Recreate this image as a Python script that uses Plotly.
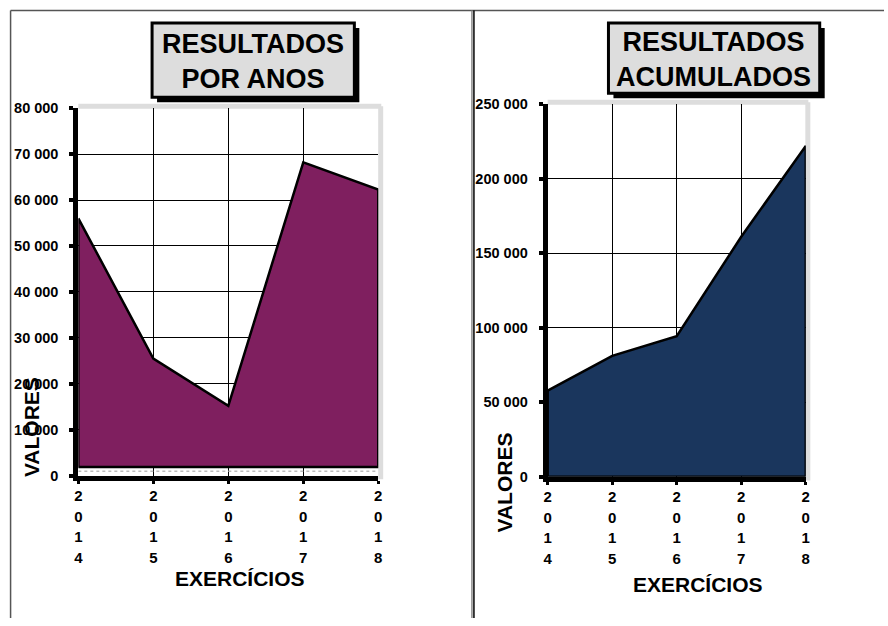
import plotly.graph_objects as go

years = [2014, 2015, 2016, 2017, 2018]
year_digits = ["2014", "2015", "2016", "2017", "2018"]
resultados_anos = [56000, 25500, 15200, 68200, 62300]
resultados_acum = [57800, 81100, 94300, 161000, 222000]

left_ticks = [0, 10000, 20000, 30000, 40000, 50000, 60000, 70000, 80000]
right_ticks = [0, 50000, 100000, 150000, 200000, 250000]

W, H = 888, 626
FONT = "Arial, Liberation Sans, sans-serif"
PURPLE = "#7F1F5F"
NAVY = "#1A365D"
base_left = 1900  # floor of the left area band

year_labels = ["<br>".join("<span style='font-size:15px'>%s</span>" % c for c in s) for s in year_digits]

fig = go.Figure()

xl = years + [years[-1], years[0], years[0]]
yl = resultados_anos + [base_left, base_left, resultados_anos[0]]
fig.add_trace(go.Scatter(x=xl, y=yl, fill="toself", fillcolor=PURPLE, mode="lines",
                         line=dict(color="black", width=2.5), xaxis="x", yaxis="y",
                         showlegend=False, hoverinfo="skip"))
fig.add_trace(go.Scatter(x=[years[0], years[-1]], y=[base_left / 2, base_left / 2], mode="lines",
                         line=dict(color="#BBBBBB", width=1.5, dash="dot"), xaxis="x", yaxis="y",
                         showlegend=False, hoverinfo="skip"))

xr = years + [years[-1], years[0], years[0]]
yr = resultados_acum + [0, 0, resultados_acum[0]]
fig.add_trace(go.Scatter(x=xr, y=yr, fill="toself", fillcolor=NAVY, mode="lines",
                         line=dict(color="black", width=2.5), xaxis="x2", yaxis="y2",
                         showlegend=False, hoverinfo="skip"))


# map target pixel positions to paper fractions (compensating the page capture)
def px(v):
    return ((v - 1.4) / 0.9945) / W


def py(v):
    return 1 - ((v - 8.0) / 0.973) / H


xtickfont = dict(family=FONT, size=16, color="black", weight="bold")
ytickfont = dict(family=FONT, size=14.5, color="black", weight="bold")
common_x = dict(tickmode="array", tickvals=years, ticktext=year_labels, tickfont=xtickfont,
                showgrid=True, gridcolor="black", gridwidth=1, zeroline=False,
                showline=True, linecolor="black", linewidth=5, ticks="outside",
                ticklen=3, tickwidth=3, tickcolor="black", range=[2014, 2018],
                ticklabelstandoff=-2)
common_y = dict(tickfont=ytickfont, tickformat=",d", showgrid=True, gridcolor="black", gridwidth=1,
                zeroline=False, showline=True, linecolor="black", linewidth=5, ticks="outside",
                ticklen=4, tickwidth=4, tickcolor="black", ticklabelstandoff=8)

fig.update_layout(
    width=W, height=H, autosize=False, margin=dict(l=0, r=0, t=0, b=0),
    paper_bgcolor="white", plot_bgcolor="white", separators=", ",
    font=dict(family=FONT, color="black"),
    xaxis=dict(domain=[px(76), px(377)], anchor="y", **common_x),
    yaxis=dict(domain=[py(475), py(108)], anchor="x", range=[0, 80000], tickvals=left_ticks, **common_y),
    xaxis2=dict(domain=[px(547), px(806)], anchor="y2", **common_x),
    yaxis2=dict(domain=[py(476), py(104)], anchor="x2", range=[0, 250000], tickvals=right_ticks, **common_y),
)

shapes = []
top = py(10.5)
shapes.append(dict(type="line", xref="paper", yref="paper", x0=px(8), x1=1, y0=top, y1=top,
                   line=dict(color="#555555", width=1.5)))
shapes.append(dict(type="line", xref="paper", yref="paper", x0=px(8), x1=px(8), y0=top, y1=0,
                   line=dict(color="#555555", width=1.5)))
shapes.append(dict(type="line", xref="paper", yref="paper", x0=px(471), x1=px(471), y0=top, y1=0,
                   line=dict(color="#888888", width=1.5)))
shapes.append(dict(type="line", xref="paper", yref="paper", x0=px(473), x1=px(473), y0=top, y1=0,
                   line=dict(color="black", width=1.5)))
for xr_, yr_ in (("x domain", "y domain"), ("x2 domain", "y2 domain")):
    shapes.append(dict(type="line", xref=xr_, yref=yr_, x0=0, x1=1.01, y0=1.005, y1=1.005,
                       line=dict(color="#DDDDDD", width=5), layer="below"))
    shapes.append(dict(type="line", xref=xr_, yref=yr_, x0=1.008, x1=1.008, y0=1.005, y1=-0.01,
                       line=dict(color="#DDDDDD", width=5), layer="below"))

for (x0, x1, y0, y1) in ((150, 353, 23, 97), (608, 820, 23, 93)):
    shapes.append(dict(type="rect", xref="paper", yref="paper", x0=px(x0 + 5), x1=px(x1 + 5),
                       y0=py(y1 + 5), y1=py(y0 + 5), fillcolor="black", line=dict(width=0)))
    shapes.append(dict(type="rect", xref="paper", yref="paper", x0=px(x0), x1=px(x1),
                       y0=py(y1), y1=py(y0), fillcolor="#DDDDDD", line=dict(color="black", width=3)))
fig.update_layout(shapes=shapes)

title_font = dict(family=FONT, size=27, color="black", weight="bold")
fig.add_annotation(xref="paper", yref="paper", x=px(251.5), y=py(61), showarrow=False,
                   xanchor="center", yanchor="middle",
                   text="RESULTADOS<br>POR ANOS", align="center", font=title_font)
fig.add_annotation(xref="paper", yref="paper", x=px(713), y=py(59), showarrow=False,
                   xanchor="center", yanchor="middle",
                   text="RESULTADOS<br>ACUMULADOS", align="center", font=title_font)

axis_title_font = dict(family=FONT, size=21, color="black", weight="bold")
for (x, y) in ((238, 578), (698, 584)):
    fig.add_annotation(xref="paper", yref="paper", x=px(x), y=py(y), showarrow=False,
                       xanchor="center", yanchor="middle", text="EXERCÍCIOS", font=axis_title_font)
for (x, y) in ((29, 427), (504, 482)):
    fig.add_annotation(xref="paper", yref="paper", x=px(x), y=py(y), showarrow=False,
                       xanchor="center", yanchor="middle", textangle=-90, text="VALORES",
                       font=axis_title_font)

fig.write_html("out.html", config={"displayModeBar": False},
               post_script="document.body.style.margin='0';document.body.style.overflow='hidden';")
